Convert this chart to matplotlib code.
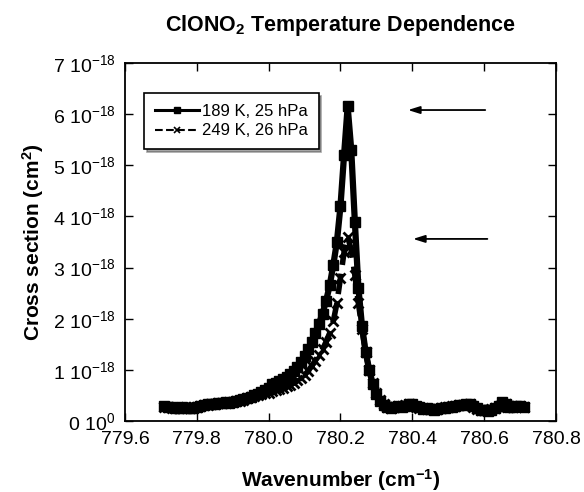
import numpy as np
import matplotlib
matplotlib.use("Agg")
import matplotlib.pyplot as plt

plt.rcParams['font.family'] = ['Liberation Sans', 'DejaVu Sans']
plt.rcParams['mathtext.default'] = 'regular'

# wavenumber grid of the measurement (cm-1)
wn = np.round(np.arange(779.71, 780.7101, 0.01), 2)

# 189 K, 25 hPa  (units of 1e-18 cm2)
xs_189 = [0.30, 0.28, 0.27, 0.25, 0.26, 0.27, 0.26, 0.25, 0.26, 0.28,
          0.29, 0.31, 0.33, 0.34, 0.33, 0.35, 0.36, 0.37, 0.36, 0.38,
          0.40, 0.41, 0.43, 0.45, 0.47, 0.50, 0.53, 0.56, 0.60, 0.65,
          0.72, 0.75, 0.79, 0.83, 0.87, 0.92, 0.98, 1.06, 1.15, 1.27,
          1.40, 1.55, 1.72, 1.90, 2.10, 2.35, 2.65, 3.05, 3.50, 4.20,
          5.20, 6.15, 5.30, 3.90, 2.60, 1.85, 1.35, 1.00, 0.72, 0.52,
          0.40, 0.32, 0.27, 0.25, 0.27, 0.30, 0.28, 0.30, 0.34, 0.33,
          0.29, 0.27, 0.24, 0.25, 0.23, 0.22, 0.23, 0.25, 0.26, 0.27,
          0.28, 0.30, 0.32, 0.31, 0.33, 0.34, 0.29, 0.25, 0.22, 0.21,
          0.20, 0.22, 0.26, 0.29, 0.37, 0.34, 0.28, 0.27, 0.29, 0.30,
          0.28]

# 249 K, 26 hPa
xs_249 = [0.28, 0.27, 0.26, 0.26, 0.25, 0.26, 0.27, 0.26, 0.27, 0.28,
          0.30, 0.31, 0.32, 0.33, 0.34, 0.35, 0.35, 0.36, 0.37, 0.38,
          0.39, 0.40, 0.42, 0.44, 0.46, 0.48, 0.50, 0.52, 0.54, 0.55,
          0.58, 0.60, 0.62, 0.65, 0.68, 0.71, 0.75, 0.80, 0.85, 0.90,
          0.98, 1.08, 1.18, 1.30, 1.40, 1.55, 1.72, 1.95, 2.30, 2.80,
          3.30, 3.60, 3.35, 2.85, 2.30, 1.80, 1.35, 1.00, 0.74, 0.55,
          0.42, 0.33, 0.28, 0.26, 0.28, 0.29, 0.29, 0.31, 0.33, 0.32,
          0.28, 0.26, 0.25, 0.24, 0.23, 0.23, 0.24, 0.25, 0.27, 0.28,
          0.29, 0.29, 0.31, 0.32, 0.32, 0.33, 0.28, 0.24, 0.22, 0.22,
          0.21, 0.23, 0.25, 0.28, 0.34, 0.33, 0.29, 0.27, 0.28, 0.29,
          0.27]

labels = ['189 K, 25 hPa', '249 K, 26 hPa']
xticks = [779.6, 779.8, 780.0, 780.2, 780.4, 780.6, 780.8]
yticks = [0, 1, 2, 3, 4, 5, 6, 7]
ytick_labels = ['0 10$^{0}$'] + ['%d 10$^{-18}$' % v for v in yticks[1:]]

# arrows: (tail x, head x, y in 1e-18)
arrows = [(780.603, 780.388, 6.08), (780.609, 780.402, 3.56)]

fig = plt.figure(figsize=(5.84, 4.92), dpi=100)
ax = fig.add_axes([0.214, 0.1443, 0.738, 0.7277])

scale = 1e-18
# thick bands, like the densely sampled original
ax.plot(wn, np.array(xs_249) * scale, '--', color='black', lw=4,
        marker='x', ms=6.5, mew=2, zorder=2)
ax.plot(wn, np.array(xs_189) * scale, '-', color='black', lw=4.5,
        marker='s', ms=6.5, zorder=3)
# legend handles
ax.plot([], [], '-', color='black', lw=2.2, marker='s', ms=4.5, label=labels[0])
ax.plot([], [], '--', color='black', lw=1.5, marker='x', ms=4.5, mew=1.2, label=labels[1])

for x0, x1, y in arrows:
    ax.annotate('', xy=(x1, y * scale), xytext=(x0, y * scale),
                arrowprops=dict(arrowstyle='-|>,head_length=0.7,head_width=0.22',
                                color='black', lw=1.3, shrinkA=0, shrinkB=0))

ax.set_xlim(779.6, 780.8)
ax.set_ylim(0, 7e-18)
ax.set_xticks(xticks)
ax.set_xticklabels(['%.1f' % v for v in xticks])
ax.set_yticks([v * scale for v in yticks])
ax.set_yticklabels(ytick_labels)
ax.tick_params(direction='in', length=6, width=1, labelsize=14,
               top=True, right=True, pad=7)
for s in ax.spines.values():
    s.set_linewidth(1.3)

ax.set_xlabel('Wavenumber (cm$^{-1}$)', fontsize=15, fontweight='bold', labelpad=14)
ax.set_ylabel('Cross section (cm$^{2}$)', fontsize=15, fontweight='bold', labelpad=5)
ax.set_title('ClONO$_{2}$ Temperature Dependence', fontsize=15.5, fontweight='bold', pad=23)

leg = ax.legend(loc='upper left', bbox_to_anchor=(0.045, 0.915), fontsize=12,
                frameon=True, fancybox=False, shadow=True, handlelength=2.6,
                borderpad=0.65, labelspacing=0.25, handletextpad=0.2,
                borderaxespad=0)
leg.get_frame().set_edgecolor('black')
leg.get_frame().set_linewidth(1.2)

fig.savefig('out.png', dpi=100)
